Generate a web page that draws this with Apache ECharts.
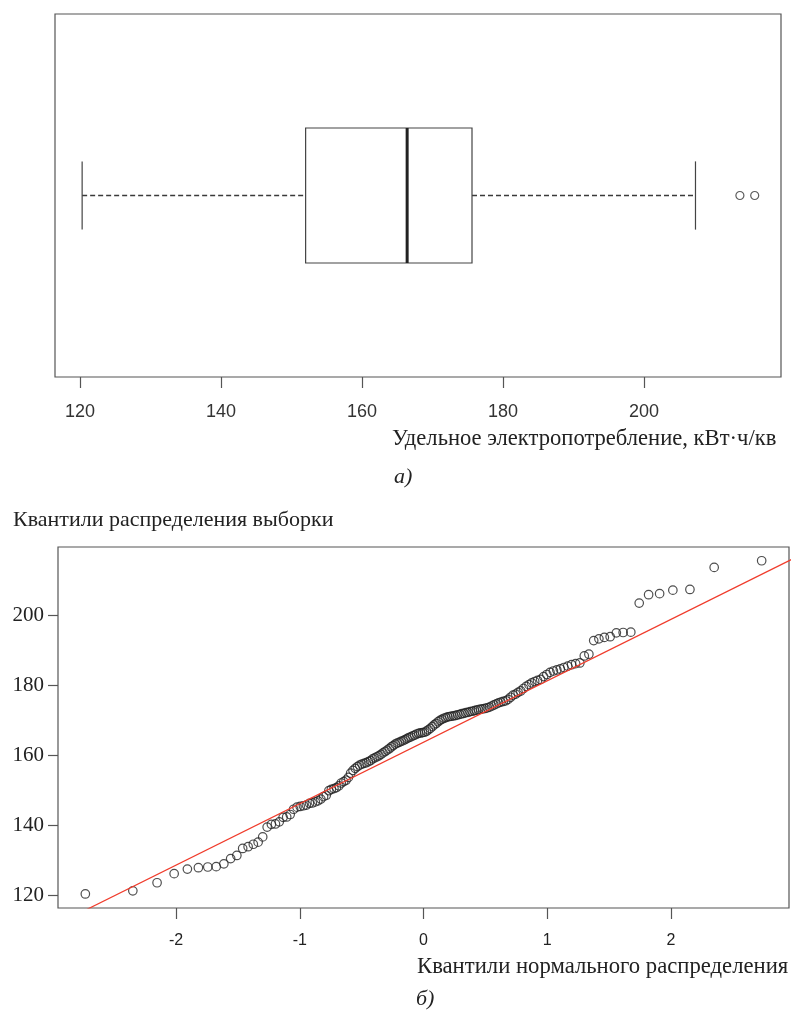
<!DOCTYPE html>
<html>
<head>
<meta charset="utf-8">
<script src="https://cdn.jsdelivr.net/npm/echarts@6/dist/echarts.min.js"></script>
<style>
html,body{margin:0;padding:0;background:#fff;}
#c{width:793px;height:1012px;}
</style>
</head>
<body>
<div id="c"></div>
<script>
// ---- Data ----
// (a) box plot: min whisker, Q1, median, Q3, max whisker
const boxStats = [120.3, 152.0, 166.4, 175.6, 207.3];
const boxOutliers = [213.6, 215.7];
const boxTicks = [120, 140, 160, 180, 200];

// (b) Q-Q plot: theoretical normal quantiles and sample quantiles
const qqTheoretical = [
-2.734,-2.350,-2.154,-2.016,-1.909,-1.820,-1.744,-1.676,-1.614,-1.559,
-1.509,-1.462,-1.418,-1.376,-1.337,-1.300,-1.264,-1.230,-1.197,-1.166,
-1.135,-1.106,-1.078,-1.050,-1.023,-0.997,-0.971,-0.947,-0.922,-0.899,
-0.875,-0.853,-0.830,-0.808,-0.786,-0.765,-0.745,-0.724,-0.704,-0.684,
-0.665,-0.645,-0.626,-0.607,-0.589,-0.570,-0.552,-0.534,-0.516,-0.498,
-0.480,-0.463,-0.445,-0.428,-0.411,-0.394,-0.377,-0.360,-0.343,-0.327,
-0.310,-0.294,-0.277,-0.261,-0.245,-0.229,-0.213,-0.197,-0.181,-0.165,
-0.149,-0.133,-0.118,-0.102,-0.086,-0.071,-0.055,-0.039,-0.024,-0.008,
0.008,0.024,0.039,0.055,0.071,0.086,0.102,0.118,0.133,0.149,
0.165,0.181,0.197,0.213,0.229,0.245,0.261,0.277,0.294,0.310,
0.327,0.343,0.360,0.377,0.394,0.411,0.428,0.445,0.463,0.480,
0.498,0.516,0.534,0.552,0.570,0.589,0.607,0.626,0.645,0.665,
0.684,0.704,0.724,0.745,0.765,0.786,0.808,0.830,0.853,0.875,
0.899,0.922,0.947,0.971,0.997,1.023,1.050,1.078,1.106,1.135,
1.166,1.197,1.230,1.264,1.300,1.337,1.376,1.418,1.462,1.509,
1.559,1.614,1.676,1.744,1.820,1.909,2.016,2.154,2.350,2.734
];
const qqSample = [
120.3,121.2,123.5,126.1,127.4,127.8,128.0,128.1,128.9,130.4,
131.3,133.3,133.8,134.5,135.1,136.6,139.4,140.2,140.3,140.9,
142.2,142.3,143.0,144.5,145.1,145.3,145.5,145.7,146.2,146.3,
146.6,146.9,147.4,148.1,148.5,149.8,150.2,150.4,150.7,151.2,
152.0,152.4,152.8,153.6,154.8,155.6,156.2,156.7,157.1,157.4,
157.6,157.8,158.1,158.4,158.9,159.2,159.5,159.8,160.2,160.6,
161.0,161.4,161.8,162.3,162.7,163.1,163.4,163.6,163.9,164.1,
164.4,164.7,165.0,165.2,165.5,165.7,166.0,166.2,166.3,166.4,
166.5,166.8,167.2,167.6,168.1,168.6,169.0,169.5,169.9,170.2,
170.5,170.7,170.9,171.0,171.1,171.2,171.3,171.5,171.6,171.8,
171.9,172.1,172.2,172.4,172.5,172.7,172.8,173.0,173.1,173.2,
173.3,173.5,173.7,174.0,174.3,174.6,174.9,175.1,175.3,175.5,
175.9,176.5,177.1,177.4,177.9,178.3,179.0,179.6,180.1,180.6,
181.0,181.3,181.6,182.4,183.0,183.6,184.0,184.3,184.6,185.0,
185.4,185.8,186.1,186.3,188.3,188.8,192.7,193.2,193.6,193.8,
194.9,195.0,195.1,203.4,205.8,206.1,207.1,207.3,213.6,215.5
];
const qqLine = [[-3.0, 111.0], [3.0, 216.3]];
const qqXTicks = [-2, -1, 0, 1, 2];
const qqYTicks = [120, 140, 160, 180, 200];

const texts = {
  xTitleA: 'Удельное электропотребление, кВт·ч/кв',
  capA: 'а)',
  yTitleB: 'Квантили распределения выборки',
  xTitleB: 'Квантили нормального распределения',
  capB: 'б)'
};

// ---- Chart ----
const SANS = "'Liberation Sans Narrow', 'Liberation Sans', Arial, sans-serif";
const SERIF = "'Liberation Serif', 'Times New Roman', serif";
const chart = echarts.init(document.getElementById('c'), null, {renderer: 'canvas'});

function renderBox(params, api) {
  const mn = api.value(0), q1 = api.value(1), md = api.value(2), q3 = api.value(3), mx = api.value(4);
  const yc = 0.5, bh = 0.186, ch = 0.094;
  const p = (x, y) => api.coord([x, y]);
  const tl = p(q1, yc + bh), br = p(q3, yc - bh);
  const mt = p(md, yc + bh), mb = p(md, yc - bh);
  const w0 = p(mn, yc), w1 = p(q1, yc), w2 = p(q3, yc), w3 = p(mx, yc);
  const c0t = p(mn, yc + ch), c0b = p(mn, yc - ch), c1t = p(mx, yc + ch), c1b = p(mx, yc - ch);
  const edge = {stroke: '#444', lineWidth: 1.2};
  return {
    type: 'group',
    children: [
      {type: 'line', shape: {x1: w0[0], y1: w0[1], x2: w1[0], y2: w1[1]}, style: {stroke: '#3a3a3a', lineWidth: 1.3, lineDash: [5, 3]}},
      {type: 'line', shape: {x1: w2[0], y1: w2[1], x2: w3[0], y2: w3[1]}, style: {stroke: '#3a3a3a', lineWidth: 1.3, lineDash: [5, 3]}},
      {type: 'line', shape: {x1: c0t[0], y1: c0t[1], x2: c0b[0], y2: c0b[1]}, style: edge},
      {type: 'line', shape: {x1: c1t[0], y1: c1t[1], x2: c1b[0], y2: c1b[1]}, style: edge},
      {type: 'rect', shape: {x: tl[0], y: tl[1], width: br[0] - tl[0], height: br[1] - tl[1]}, style: {fill: '#fff', stroke: '#444', lineWidth: 1.2}},
      {type: 'line', shape: {x1: mt[0], y1: mt[1], x2: mb[0], y2: mb[1]}, style: {stroke: '#222', lineWidth: 3}}
    ]
  };
}

const option = {
  animation: false,
  backgroundColor: '#fff',
  grid: [
    {left: 55, top: 14, width: 726, height: 363, show: true, borderColor: '#555', borderWidth: 1.2, backgroundColor: 'transparent'},
    {left: 58, top: 547, width: 731, height: 361, show: true, borderColor: '#555', borderWidth: 1.2, backgroundColor: 'transparent'}
  ],
  xAxis: [
    {
      type: 'value', gridIndex: 0, min: 116.45, max: 219.43,
      splitLine: {show: false}, axisLine: {show: false, onZero: false},
      axisTick: {show: true, inside: false, length: 11, customValues: boxTicks, lineStyle: {color: '#555', width: 1.2}},
      axisLabel: {customValues: boxTicks, margin: 26, color: '#333', fontSize: 18, fontFamily: SANS}
    },
    {
      type: 'value', gridIndex: 1, min: -2.955, max: 2.955,
      splitLine: {show: false}, axisLine: {show: false, onZero: false},
      axisTick: {show: true, inside: false, length: 11, customValues: qqXTicks, lineStyle: {color: '#555', width: 1.2}},
      axisLabel: {customValues: qqXTicks, margin: 25, color: '#222', fontSize: 16, fontFamily: SANS,
        formatter: v => String(v)}
    }
  ],
  yAxis: [
    {type: 'value', gridIndex: 0, min: 0, max: 1, show: false},
    {
      type: 'value', gridIndex: 1, min: 116.29, max: 219.43,
      splitLine: {show: false}, axisLine: {show: false, onZero: false},
      axisTick: {show: true, inside: false, length: 10, customValues: qqYTicks, lineStyle: {color: '#555', width: 1.2}},
      axisLabel: {customValues: qqYTicks, margin: 14, color: '#222', fontSize: 21, fontFamily: SERIF}
    }
  ],
  series: [
    {
      type: 'custom', xAxisIndex: 0, yAxisIndex: 0, clip: false,
      renderItem: renderBox,
      encode: {x: [0, 1, 2, 3, 4]},
      data: [boxStats], silent: true
    },
    {
      type: 'scatter', xAxisIndex: 0, yAxisIndex: 0,
      symbol: 'circle', symbolSize: 8,
      itemStyle: {color: 'rgba(0,0,0,0)', borderColor: '#333', borderWidth: 1.2},
      data: boxOutliers.map(v => [v, 0.5]), silent: true
    },
    {
      type: 'line', xAxisIndex: 1, yAxisIndex: 1,
      data: qqLine, symbol: 'none', clip: true,
      lineStyle: {color: '#f03c2c', width: 1.2}, silent: true
    },
    {
      type: 'scatter', xAxisIndex: 1, yAxisIndex: 1,
      symbol: 'circle', symbolSize: 8.5,
      itemStyle: {color: 'rgba(0,0,0,0)', borderColor: '#222', borderWidth: 1.2},
      data: qqTheoretical.map((x, i) => [x, qqSample[i]]), silent: true
    }
  ],
  graphic: [
    {type: 'text', left: 392, top: 428, style: {text: texts.xTitleA, font: '22.6px ' + SERIF, fill: '#222'}},
    {type: 'text', left: 394, top: 466, style: {text: texts.capA, font: 'italic 22px ' + SERIF, fill: '#222'}},
    {type: 'text', left: 13, top: 509, style: {text: texts.yTitleB, font: '22px ' + SERIF, fill: '#222'}},
    {type: 'text', left: 417, top: 956, style: {text: texts.xTitleB, font: '22.7px ' + SERIF, fill: '#222'}},
    {type: 'text', left: 416, top: 988, style: {text: texts.capB, font: 'italic 22px ' + SERIF, fill: '#222'}}
  ]
};
chart.setOption(option);
</script>
</body>
</html>
